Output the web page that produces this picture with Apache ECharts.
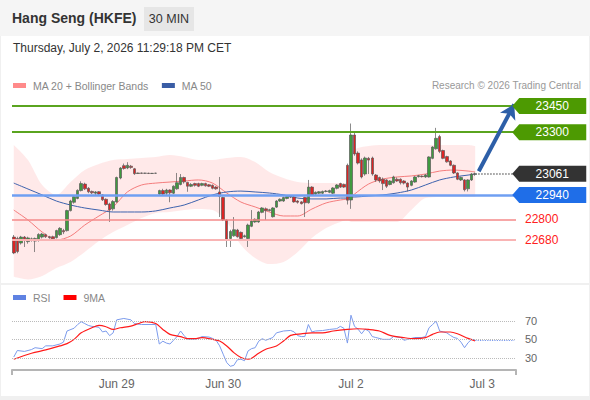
<!DOCTYPE html>
<html>
<head>
<meta charset="utf-8">
<script src="https://cdn.jsdelivr.net/npm/echarts@6/dist/echarts.min.js"></script>
<style>
  html, body { margin:0; padding:0; }
  body { width:590px; height:400px; background:#f0f0f0; position:relative; overflow:hidden; font-family:"Liberation Sans", Arial, sans-serif; }
  #hdr { position:absolute; left:0; top:0; width:590px; height:36px; background:#f5f5f5; }
  #title { position:absolute; left:12px; top:10px; font-size:14px; font-weight:bold; color:#333; }
  #tf { position:absolute; left:144px; top:7px; width:50px; height:24px; line-height:24px; text-align:center; background:#e6e6e6; color:#333; font-size:12.5px; }
  #p1 { position:absolute; left:1px; top:36px; width:588px; height:247px; background:#fff; }
  #p2 { position:absolute; left:1px; top:285px; width:588px; height:111px; background:#fff; }
  #date { position:absolute; left:13px; top:41px; font-size:12px; color:#333; }
  #credit { position:absolute; right:9px; top:80px; font-size:10px; color:#999; }
  #chart { position:absolute; left:0; top:0; width:590px; height:400px; }
</style>
</head>
<body>
<div id="hdr"><div id="title">Hang Seng (HKFE)</div><div id="tf">30 MIN</div></div>
<div id="p1"></div>
<div id="p2"></div>
<div id="date">Thursday, July 2, 2026 11:29:18 PM CET</div>
<div id="credit">Research © 2026 Trading Central</div>
<div id="chart"></div>
<script>
// ---- data ----
const categoryCount = 142;
const dayLabels = ['Jun 29', 'Jun 30', 'Jul 2', 'Jul 3'];
const dayStartIndex = [29, 59, 95, 132];

// candles: [open, close, low, high]
const candles = [
[22698,22607,22600,22710],[22690,22615,22605,22700],[22664,22698,22655,22705],[22698,22680,22641,22704],
[22672,22693,22660,22700],[22683,22688,22672,22695],[22675,22690,22612,22695],[22680,22713,22672,22720],
[22698,22715,22690,22722],[22712,22700,22693,22718],[22700,22695,22688,22705],[22700,22688,22680,22706],
[22695,22735,22690,22740],[22712,22748,22705,22755],[22735,22728,22715,22745],[22735,22850,22730,22855],
[22850,22905,22845,22912],[22898,22930,22890,22935],[22920,22966,22915,22972],[22965,23005,22960,23018],
[23002,22975,22968,23010],[22978,22958,22950,22985],[22960,22952,22945,22965],[22950,22957,22940,22962],
[22958,22945,22938,22962],[22940,22912,22905,22945],[22915,22885,22878,22920],[22888,22855,22785,22895],
[22860,22902,22850,22910],[22900,23040,22895,23045],[23037,23094,23030,23100],[23108,23092,23085,23120],
[23095,23110,23088,23128],[23105,23098,23090,23112],[23090,23062,23055,23095],[23063,23066,23060,23068],
[23066,23064,23061,23068],[23064,23065,23061,23067],[23065,23063,23060,23067],[23063,23064,23061,23066],
[23064,23065,23062,23067],[22945,22965,22935,22970],[22965,22945,22935,22975],[22950,22968,22940,22975],
[22968,22952,22898,22972],[22950,22990,22945,22995],[22975,23010,22970,23066],[23000,23040,22995,23060],
[23040,23015,23005,23045],[23012,22990,22958,23015],[22990,23000,22985,23008],[23005,22995,22988,23010],
[23005,22990,22985,23010],[22995,23005,22990,23010],[23005,22992,22988,23010],[22998,22990,22985,23002],
[22995,22978,22972,23000],[22985,22975,22970,22990],[22957,22932,22813,23043],[22925,22796,22790,22930],
[22796,22685,22641,22800],[22690,22730,22641,22740],[22705,22740,22700,22813],[22738,22700,22695,22745],
[22725,22690,22680,22730],[22700,22705,22695,22712],[22690,22767,22641,22775],[22760,22790,22755,22853],
[22785,22800,22780,22805],[22785,22842,22780,22848],[22840,22865,22835,22870],[22860,22850,22796,22868],
[22850,22855,22845,22860],[22815,22865,22810,22870],[22870,22905,22865,22910],[22905,22915,22900,22920],
[22905,22925,22900,22930],[22920,22930,22915,22935],[22928,22930,22922,22935],[22928,22900,22895,22935],
[22905,22898,22890,22910],[22900,22890,22885,22905],[22925,22895,22813,22930],[22895,22985,22890,23026],
[22985,22940,22935,22990],[22945,22955,22940,22960],[22950,22958,22945,22962],[22950,22960,22945,22965],
[22960,22962,22955,22968],[22955,22965,22950,22970],[22950,22980,22945,22985],[22978,22997,22972,23002],
[23005,22985,22980,23010],[23000,22985,22980,23005],[23110,22910,22885,23120],[22911,23284,22860,23350],
[23284,23175,23165,23300],[23180,23123,23115,23190],[23141,23043,23035,23150],[23060,23152,23050,23160],
[23150,23140,23060,23158],[23152,23060,23050,23160],[23054,23026,23015,23060],[23040,23020,23010,23045],
[23030,23005,22968,23040],[23026,22990,22980,23030],[23000,23020,22995,23025],[23010,23043,23005,23050],
[23030,23020,23015,23040],[23030,23010,23000,23035],[23020,23008,23000,23025],[23008,22985,22960,23012],
[22995,23020,22990,23025],[23014,23043,23010,23048],[23045,23050,23040,23055],[23048,23045,23040,23052],
[23043,23055,23038,23060],[23043,23158,23040,23162],[23150,23215,23145,23220],[23205,23265,23200,23325],
[23275,23190,23180,23285],[23195,23150,23145,23200],[23160,23130,23125,23165],[23135,23110,23105,23140],
[23110,23066,23060,23115],[23066,23030,23025,23070],[23026,23040,23020,23045],[23026,22970,22960,23030],
[22975,23026,22960,23030],[23026,23060,23020,23066],[23058,23061,23050,23068]
];

// overlay samples (candle index -> value)
const overlayIndex = [0,4,8,12,16,20,24,28,32,36,40,44,48,52,56,60,64,68,72,76,80,84,88,92,94,95,96,100,104,108,112,116,120,124,128,130];
const bbUpper = [23227,23141,22997,22940,23014,23083,23118,23141,23146,23152,23158,23169,23158,23141,23141,23152,23158,23129,23072,23037,23014,23008,23008,23008,23008,23112,23198,23221,23227,23227,23227,23227,23227,23227,23227,23221];
const bbLower = [22470,22455,22475,22520,22555,22612,22675,22727,22767,22807,22836,22842,22853,22859,22853,22785,22652,22578,22543,22555,22612,22693,22750,22785,22796,22785,22785,22785,22785,22785,22853,22922,22928,22928,22928,22928];
const ma20 = [22853,22796,22727,22681,22704,22767,22819,22871,22957,22997,23008,23014,23020,23026,23008,22951,22899,22871,22842,22819,22819,22859,22894,22911,22917,22928,22945,23003,23031,23043,23049,23060,23077,23083,23077,23072];
const ma50 = [23008,22974,22940,22905,22882,22865,22853,22842,22842,22842,22848,22865,22882,22911,22940,22957,22962,22957,22951,22940,22922,22917,22917,22922,22922,22928,22928,22934,22940,22951,22968,22997,23026,23043,23054,23060];

// key levels
const resistance = [23450, 23300];
const pivot = 22940;
const supports = [22800, 22680];
const lastPrice = 23061;
const target = 23460;

// RSI (candle index, value)
const rsi = [[0,31],[1,38],[3,37],[5,39],[6,41],[8,40],[9,43],[11,43],[13,45],[14,47],[15,59],[17,62],[18,66],[19,69],[20,67],[21,65],[22,64],[24,63],[25,58],[26,59],[27,54],[28,57],[29,71],[31,72.5],[33,71],[34,67],[36,66],[40,66],[41,45],[42,48],[43,46],[44,45],[45,49],[46,53],[47,59],[48,54],[49,50],[51,50],[52,51],[53,53],[55,52.5],[56,51],[57,49],[58,43],[59,34],[60,25],[61,21],[62,22],[63,28],[64,28.6],[65,27],[66,37.5],[67,40],[68,41],[69,48],[70,50.7],[71,49],[73,52],[74,57],[76,59],[78,59.6],[79,58],[80,54],[81,53],[82,53],[83,66],[84,58],[85,59],[87,59.5],[89,60.7],[91,61.5],[92,64],[93,62],[94,46],[95,76],[96,64],[97,61],[98,56],[99,61],[100,59],[101,53],[102,52],[104,50],[106,50],[107,53],[109,52],[110,49],[111,50],[113,52],[115,52],[116,53],[117,62.5],[118,66],[119,69.6],[120,59],[121,58],[122,57],[123,54.3],[124,52],[125,51],[126,47],[127,41],[128,46.4],[129,50],[130,49.5]];
const rsiMA = [[0,28.6],[5,35],[9,38.6],[13,42.9],[15,45.4],[17,50],[19,57],[22,62.5],[24,65],[26,63.6],[28,60.7],[30,62.5],[33,64.3],[35,66.8],[37,69],[40,67],[42,60.7],[44,55.4],[47,52.9],[49,50.7],[51,50.7],[53,51.8],[56,50],[58,48.2],[60,42.9],[62,35.7],[64,30.4],[66,28.6],[67,29.6],[69,35],[71,39.3],[74,42.9],[76,48.2],[78,54.3],[81,56],[84,57],[87,57],[90,59],[94,60.7],[97,61.4],[100,60.7],[103,59],[106,54.3],[110,51.8],[113,50.7],[116,51.8],[118,55.4],[120,57.9],[123,57.9],[125,56],[128,51],[130,48.2]];
const rsiLevels = [70, 50, 30];

// ---- build options ----
const categories = [];
for (let i = 0; i < categoryCount; i++) {
  const k = dayStartIndex.indexOf(i);
  categories.push(k >= 0 ? dayLabels[k] : '');
}
const lastIdx = candles.length - 1;
const endIdx = categoryCount - 1;
const pair = (arr) => overlayIndex.map((x, i) => [x, arr[i]]);
const bandDiff = overlayIndex.map((x, i) => [x, bbUpper[i] - bbLower[i]]);

const tagPath = 'path://M0,8L7,0L74,0L74,16L7,16Z';
function tag(v, color) {
  return { coord: [endIdx, v], value: String(v), itemStyle: { color: color } };
}

const legendText = { color: '#888', fontSize: 10.5, padding: [0, 0, 0, 2] };

const chart = echarts.init(document.getElementById('chart'), null, { renderer: 'svg', width: 590, height: 400 });
chart.setOption({
  animation: false,
  backgroundColor: 'transparent',
  textStyle: { fontFamily: 'Liberation Sans, Arial, sans-serif' },
  legend: [
    { left: 13, top: 80, icon: 'rect', itemWidth: 13, itemHeight: 5, itemGap: 13, selectedMode: false,
      padding: 0, textStyle: legendText,
      data: [ { name: 'MA 20 + Bollinger Bands', itemStyle: { color: '#ff8a8a' } },
              { name: 'MA 50', itemStyle: { color: '#3a5da5' } } ] },
    { left: 13, top: 292, icon: 'rect', itemWidth: 13, itemHeight: 5, itemGap: 13, selectedMode: false,
      padding: 0, textStyle: legendText,
      data: [ { name: 'RSI', itemStyle: { color: '#5f82e2' } },
              { name: '9MA', itemStyle: { color: '#ff0000' } } ] }
  ],
  grid: [
    { left: 12, right: 74, top: 96, height: 186 },
    { left: 12, right: 74, top: 305, height: 65 }
  ],
  xAxis: [
    { type: 'category', gridIndex: 0, data: categories, boundaryGap: true,
      axisLine: { show: false }, axisTick: { show: false }, axisLabel: { show: false }, splitLine: { show: false } },
    { type: 'category', gridIndex: 1, data: categories, boundaryGap: true,
      axisLine: { show: true, lineStyle: { color: '#b5b5b5', width: 2 } },
      axisTick: { show: true, length: 5, interval: (i) => i === 0, lineStyle: { color: '#b5b5b5', width: 2 } },
      axisLabel: { show: true, interval: (i, v) => v !== '', color: '#666', fontSize: 12, margin: 8 },
      splitLine: { show: false } }
  ],
  yAxis: [
    { type: 'value', gridIndex: 0, min: 22440, max: 23508, show: false, splitLine: { show: false } },
    { type: 'value', gridIndex: 1, min: 17, max: 87, show: false, splitLine: { show: false } }
  ],
  series: [
    { name: 'bandLower', type: 'line', xAxisIndex: 0, yAxisIndex: 0, stack: 'bb', data: pair(bbLower),
      symbol: 'none', smooth: 0.3, lineStyle: { opacity: 0 }, silent: true, z: 1 },
    { name: 'bandFill', type: 'line', xAxisIndex: 0, yAxisIndex: 0, stack: 'bb', data: bandDiff,
      symbol: 'none', smooth: 0.3, lineStyle: { opacity: 0 }, areaStyle: { color: 'rgba(255,130,130,0.25)' }, silent: true, z: 1 },
    { name: 'MA 20 + Bollinger Bands', type: 'line', xAxisIndex: 0, yAxisIndex: 0, data: pair(ma20),
      symbol: 'none', smooth: 0.3, color: '#f47c7c', lineStyle: { width: 1, color: '#f47c7c' }, z: 2 },
    { name: 'MA 50', type: 'line', xAxisIndex: 0, yAxisIndex: 0, data: pair(ma50),
      symbol: 'none', smooth: 0.3, color: '#3d62ad', lineStyle: { width: 1, color: '#3d62ad' }, z: 2 },
    { name: 'price', type: 'candlestick', xAxisIndex: 0, yAxisIndex: 0, data: candles, barWidth: 3, z: 4,
      itemStyle: { color: '#3f9a3f', color0: '#dc2424', borderColor: '#5a5a5a', borderColor0: '#5a5a5a', borderWidth: 0.7 },
      markLine: {
        silent: true, symbol: ['none', 'none'], animation: false,
        data: [
          { yAxis: resistance[0], lineStyle: { color: '#5aa41f', width: 2, type: 'solid' }, label: { show: false } },
          { yAxis: resistance[1], lineStyle: { color: '#5aa41f', width: 2, type: 'solid' }, label: { show: false } },
          { yAxis: pivot, lineStyle: { color: '#6f9ff2', width: 2.5, type: 'solid' }, label: { show: false } },
          { yAxis: supports[0], lineStyle: { color: '#f58a8a', width: 1.5, type: 'solid' },
            label: { show: true, position: 'end', distance: 9, color: '#ff2020', fontSize: 12, formatter: String(supports[0]) } },
          { yAxis: supports[1], lineStyle: { color: '#f9b4b4', width: 2, type: 'solid' },
            label: { show: true, position: 'end', distance: 9, color: '#ff2020', fontSize: 12, formatter: String(supports[1]) } },
          [ { coord: [lastIdx, lastPrice], symbol: 'none' },
            { coord: [endIdx, lastPrice], symbol: 'none', lineStyle: { color: '#777', width: 1.5, type: 'dotted' }, label: { show: false } } ],
          [ { coord: [lastIdx + 1.3, lastPrice + 15], symbol: 'none' },
            { coord: [endIdx - 0.5, target], symbol: 'arrow', symbolSize: [13, 14],
              lineStyle: { color: '#2d5fa8', width: 4, type: 'solid' }, label: { show: false } } ]
        ]
      },
      markPoint: {
        silent: true, symbol: tagPath, symbolSize: [74, 16], symbolOffset: [35, 0], symbolKeepAspect: false,
        label: { show: true, position: 'inside', color: '#fff', fontSize: 12, offset: [3, 0], formatter: (p) => p.value },
        data: [ tag(resistance[0], '#4d9a02'), tag(resistance[1], '#4d9a02'), tag(lastPrice, '#333333'), tag(pivot, '#1f6ee8') ]
      }
    },
    { name: 'RSI', type: 'line', xAxisIndex: 1, yAxisIndex: 1, data: rsi, symbol: 'none',
      color: '#7c9bec', lineStyle: { width: 1, color: '#7c9bec' }, z: 3,
      markLine: {
        silent: true, symbol: ['none', 'none'],
        data: rsiLevels.map(v => ({ yAxis: v, lineStyle: { color: '#bbb', width: 1, type: 'dotted' },
            label: { show: true, position: 'end', distance: 9, color: '#666', fontSize: 11, formatter: String(v) } }))
          .concat([[ { coord: [lastIdx, rsi[rsi.length - 1][1]], symbol: 'none' },
                     { coord: [endIdx, rsi[rsi.length - 1][1]], symbol: 'none', lineStyle: { color: '#7c9bec', width: 1.2, type: 'dotted' }, label: { show: false } } ]])
      }
    },
    { name: '9MA', type: 'line', xAxisIndex: 1, yAxisIndex: 1, data: rsiMA, symbol: 'none', smooth: 0.3,
      color: '#ff1a1a', lineStyle: { width: 1.2, color: '#ff1a1a' }, z: 4 }
  ]
});
</script>
</body>
</html>
